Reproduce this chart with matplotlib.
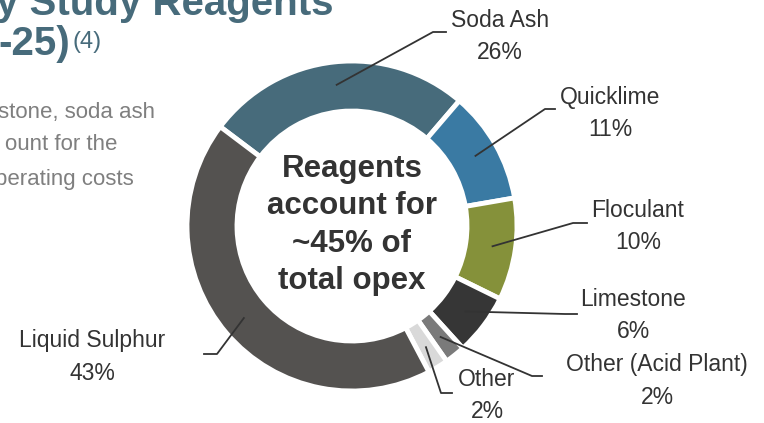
import matplotlib
matplotlib.use('Agg')
import matplotlib.pyplot as plt
import numpy as np

labels = ['Soda Ash', 'Quicklime', 'Floculant', 'Limestone',
          'Other (Acid Plant)', 'Other', 'Liquid Sulphur']
shares = [26, 11, 10, 6, 2, 2, 43]
colors = ['#476b7b', '#3a7aa3', '#85913a', '#363636', '#7a7a7a', '#d9d9d9', '#545250']

# label layout in image pixels (x, y from top): text centre, elbow, end of leader
text_pos = [(500, 36), (610, 113), (638, 226), (633, 316), (657, 381), (487, 396), (92, 357)]
elbow_pos = [(433, 32), (545, 109), (573, 223), (565, 314), (532, 376), (441, 393), (217, 354)]
end_pos = [(446, 32), (555, 109), (587, 223), (577, 314), (542, 376), (452, 393), (204, 354)]

W, H = 764, 423


def img(p):
    return p[0], H - p[1]


fig = plt.figure(figsize=(W / 100, H / 100), dpi=100)
ax = fig.add_axes([0, 0, 1, 1])

cx, cy = 352, H - 226
wedges, _ = ax.pie(shares, colors=colors, startangle=143, counterclock=False,
                   radius=165, center=(cx, cy),
                   wedgeprops=dict(width=50, edgecolor='white', linewidth=3.5))
ax.set_xlim(0, W)
ax.set_ylim(0, H)
ax.set_aspect('equal')
ax.set_axis_off()

for i, w in enumerate(wedges):
    mid = np.deg2rad((w.theta1 + w.theta2) / 2)
    ax_ = cx + 142 * np.cos(mid)
    ay_ = cy + 142 * np.sin(mid)
    ex, ey = img(elbow_pos[i])
    fx, fy = img(end_pos[i])
    ax.plot([ax_, ex, fx], [ay_, ey, fy], color='#333333', lw=1.3, zorder=3)
    tx, ty = img(text_pos[i])
    ax.text(tx, ty, '%s\n%d%%' % (labels[i], shares[i]), ha='center', va='center',
            fontsize=16.5, family='Liberation Sans', color='#333333', linespacing=1.5)

ax.text(cx, cy + 1, 'Reagents\naccount for\n~45% of\ntotal opex', ha='center', va='center',
        fontsize=22.5, fontweight='bold', family='Liberation Sans', color='#333333',
        linespacing=1.31)

# partial slide title and body text on the left
ax.text(333, H - 15, 'y Study Reagents', ha='right', va='baseline', fontsize=29,
        fontweight='bold', family='Liberation Sans', color='#476b7b')
ax.text(70, H - 55, '-25)', ha='right', va='baseline', fontsize=29,
        fontweight='bold', family='Liberation Sans', color='#476b7b')
ax.text(72, H - 48, '(4)', ha='left', va='baseline', fontsize=17,
        family='Liberation Sans', color='#476b7b')

body = ['stone, soda ash', 'ount for the', 'perating costs']
body_right = [155, 117, 134]
body_base = [118, 150, 185]
for s, r, b in zip(body, body_right, body_base):
    ax.text(r, H - b, s, ha='right', va='baseline', fontsize=16,
            family='Liberation Sans', color='#7f7f7f')

plt.savefig('out.png', dpi=100)
